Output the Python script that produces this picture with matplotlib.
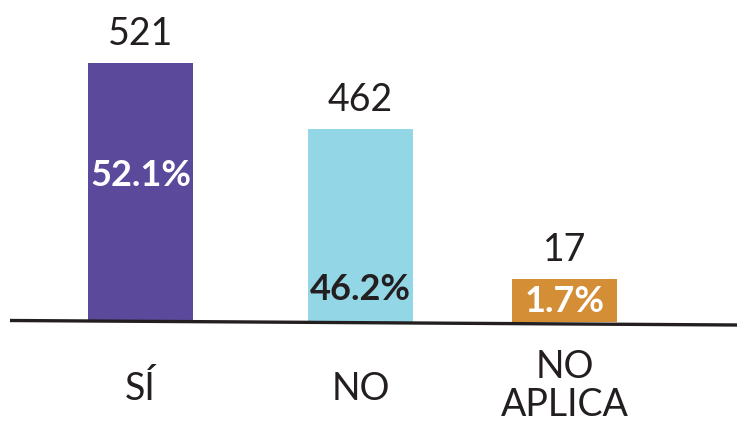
import matplotlib
matplotlib.use("Agg")
import matplotlib.pyplot as plt

# datos
categorias = ["SÍ", "NO", "NO\nAPLICA"]
conteos = [521, 462, 17]
porcentajes = ["52.1%", "46.2%", "1.7%"]
# altura dibujada de cada barra (la infografía no es proporcional)
alturas = [259, 193, 43]

colores = ["#5b4a9c", "#93d7e6", "#d38e36"]
color_pct = ["white", "#231f20", "white"]
texto = "#231f20"

x_pos = [140.5, 360.5, 564.5]
ancho = 105
cat_y = [-67, -67, -64]

plt.rcParams['font.family'] = ['Lato', 'DejaVu Sans']

fig = plt.figure(figsize=(7.37, 4.25), dpi=100)
ax = fig.add_axes([0, 0, 1, 1])
ax.set_xlim(0, 737)
ax.set_ylim(-103, 322)
ax.axis("off")

ax.bar(x_pos, alturas, width=ancho, color=colores, zorder=2)

# linea base
ax.plot([10, 737], [1.5, -3], color="#231f20", lw=2.4, zorder=3,
        solid_capstyle="butt")

for i in range(len(categorias)):
    # conteo encima de la barra
    ax.text(x_pos[i], alturas[i] + 29, str(conteos[i]), ha="center", va="center",
            fontsize=27, color=texto)
    # categoria debajo
    ax.text(x_pos[i], cat_y[i], categorias[i], ha="center", va="center",
            fontsize=27, color=texto, linespacing=1.08)

# porcentajes dentro de las barras
pct_y = [147, 32, 20]
for i in range(len(porcentajes)):
    ax.text(x_pos[i], pct_y[i], porcentajes[i], ha="center", va="center",
            fontsize=26, color=color_pct[i], fontweight="bold", zorder=4)

fig.savefig("out.png", dpi=100)
